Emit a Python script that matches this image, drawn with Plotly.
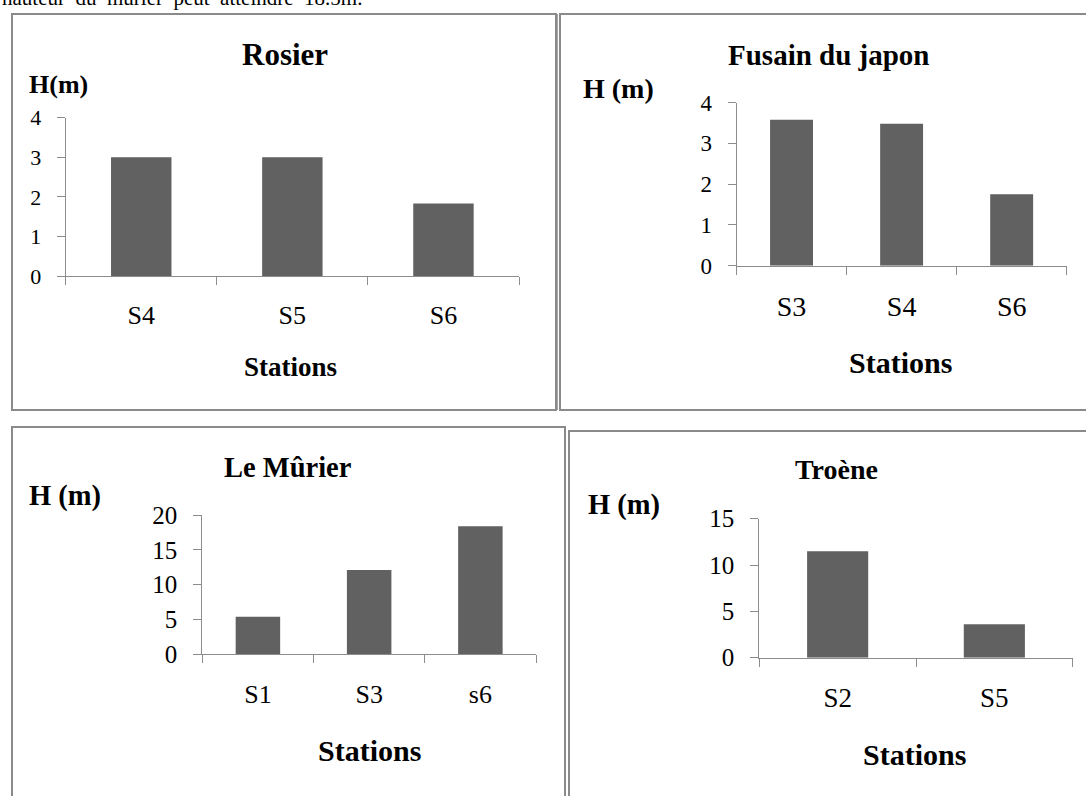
import plotly.graph_objects as go

W, H = 1086, 796

# ---- data ----
rosier_stations = ["S4", "S5", "S6"]
rosier_heights = [3.0, 3.0, 1.83]
fusain_stations = ["S3", "S4", "S6"]
fusain_heights = [3.58, 3.48, 1.75]
murier_stations = ["S1", "S3", "s6"]
murier_heights = [5.4, 12.1, 18.4]
troene_stations = ["S2", "S5"]
troene_heights = [11.5, 3.6]

rosier_ticks = [0, 1, 2, 3, 4]
fusain_ticks = [0, 1, 2, 3, 4]
murier_ticks = [0, 5, 10, 15, 20]
troene_ticks = [0, 5, 10, 15]

titles = ["Rosier", "Fusain du japon", "Le Mûrier", "Troène"]
ylabels = ["H(m)", "H (m)", "H (m)", "H (m)"]
xlabel = "Stations"

FONT = "Liberation Serif"
BAR = "#616161"
AXIS = "#8c8c8c"
BORDER = "#8a8a8a"


def px(x):
    return x / W


def py(y):
    return 1 - y / H


# layout geometry in pixels
panels = [
    dict(st=rosier_stations, h=rosier_heights, ticks=rosier_ticks,
         x0=65.7, x1=519, ytop=117.7, ybot=276, bw=0.4,
         tfs=22, cfs=26, title=(285, 54, 31), hl=(27, 84, 26), st_lab=(290, 367, 27)),
    dict(st=fusain_stations, h=fusain_heights, ticks=fusain_ticks,
         x0=736.5, x1=1066.7, ytop=102.5, ybot=265.7, bw=0.39,
         tfs=23, cfs=28, title=(829, 55, 29), hl=(581, 88, 28), st_lab=(900.5, 362.5, 30)),
    dict(st=murier_stations, h=murier_heights, ticks=murier_ticks,
         x0=202.3, x1=536, ytop=515, ybot=654.3, bw=0.4,
         tfs=25, cfs=26, title=(288, 467, 28.5), hl=(26.7, 496, 28.5), st_lab=(369.4, 750, 30)),
    dict(st=troene_stations, h=troene_heights, ticks=troene_ticks,
         x0=759.3, x1=1072.7, ytop=518.7, ybot=657.7, bw=0.39,
         tfs=25, cfs=27, title=(836, 469, 28), hl=(585.7, 505, 28.5), st_lab=(914.5, 754, 30)),
]

fig = go.Figure()
annotations = []
layout_axes = {}

for i, p in enumerate(panels):
    n = i + 1
    xa = "x" if n == 1 else f"x{n}"
    ya = "y" if n == 1 else f"y{n}"
    fig.add_trace(go.Bar(
        x=p["st"], y=p["h"], xaxis=xa, yaxis=ya,
        marker=dict(color=BAR, line=dict(width=0)),
        width=p["bw"], showlegend=False, hoverinfo="skip",
    ))
    xkey = "xaxis" if n == 1 else f"xaxis{n}"
    ykey = "yaxis" if n == 1 else f"yaxis{n}"
    layout_axes[xkey] = dict(
        domain=[px(p["x0"]), px(p["x1"])], anchor=ya, type="category",
        range=[-0.5, len(p["st"]) - 0.5], tickson="boundaries",
        ticks="outside", ticklen=8, tickcolor=AXIS, tickwidth=1,
        showline=True, linecolor=AXIS, linewidth=1, showgrid=False,
        zeroline=False, fixedrange=True, ticklabelstandoff=16, automargin=False,
        tickfont=dict(family=FONT, size=p["cfs"], color="black"),
    )
    layout_axes[ykey] = dict(
        domain=[py(p["ybot"]), py(p["ytop"])], anchor=xa,
        range=[0, p["ticks"][-1]], tickvals=p["ticks"],
        ticks="outside", ticklen=8, tickcolor=AXIS, tickwidth=1,
        showline=True, linecolor=AXIS, linewidth=1, showgrid=False,
        zeroline=False, fixedrange=True, ticklabelstandoff=11, automargin=False,
        tickfont=dict(family=FONT, size=p["tfs"], color="black"),
    )
    tx, ty, tfs = p["title"]
    annotations.append(dict(text=f"<b>{titles[i]}</b>", x=px(tx), y=py(ty),
                            xref="paper", yref="paper", xanchor="center", yanchor="middle",
                            showarrow=False, font=dict(family=FONT, size=tfs, color="black")))
    hx, hy, hfs = p["hl"]
    annotations.append(dict(text=f"<b>{ylabels[i]}</b>", x=px(hx), y=py(hy),
                            xref="paper", yref="paper", xanchor="left", yanchor="middle",
                            showarrow=False, font=dict(family=FONT, size=hfs, color="black")))
    sx, sy, sfs = p["st_lab"]
    annotations.append(dict(text=f"<b>{xlabel}</b>", x=px(sx), y=py(sy),
                            xref="paper", yref="paper", xanchor="center", yanchor="middle",
                            showarrow=False, font=dict(family=FONT, size=sfs, color="black")))

# partially visible line of text at the very top
annotations.append(dict(text="hauteur  du  mûrier  peut  atteindre  18.5m.",
                        x=px(0), y=py(-2), xref="paper", yref="paper",
                        xanchor="left", yanchor="middle", showarrow=False,
                        font=dict(family=FONT, size=21, color="black")))

shapes = []


def rect(x0, y0, x1, y1):
    shapes.append(dict(type="rect", xref="paper", yref="paper",
                       x0=px(x0), y0=py(y0), x1=px(x1), y1=py(y1),
                       line=dict(color=BORDER, width=2), fillcolor="rgba(0,0,0,0)"))


rect(12, 14, 556, 410)      # Rosier
rect(560, 14, 1100, 410)    # Fusain du japon
shapes.append(dict(type="line", xref="paper", yref="paper",
                   x0=px(557), x1=px(557), y0=py(14), y1=py(410),
                   line=dict(color=BORDER, width=1.5)))
rect(12, 427, 565, 810)     # Le Mûrier
rect(569, 431, 1100, 810)   # Troène

fig.update_layout(
    width=W, height=H, margin=dict(l=0, r=0, t=0, b=0, autoexpand=False),
    paper_bgcolor="white", plot_bgcolor="white",
    annotations=annotations, shapes=shapes, showlegend=False,
    **layout_axes,
)

fig.write_html("out.html", config={"displayModeBar": False},
               post_script="document.body.style.margin='0';document.body.style.overflow='hidden';")
